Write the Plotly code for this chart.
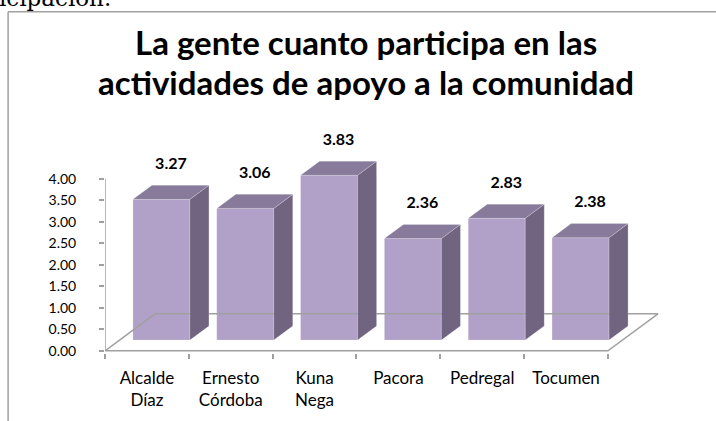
import plotly.graph_objects as go

# data
categories = ['Alcalde<br>Díaz', 'Ernesto<br>Córdoba', 'Kuna<br>Nega', 'Pacora', 'Pedregal', 'Tocumen']
values = [3.27, 3.06, 3.83, 2.36, 2.83, 2.38]
y_ticks = [0, 0.5, 1, 1.5, 2, 2.5, 3, 3.5, 4]
title_lines = ['La gente cuanto participa en las', 'actividades de apoyo a la comunidad']

# fake 3d geometry (axis units)
DX, DY = 0.597, 0.86      # floor depth
F0, F1 = 0.29, 0.67       # bar front / back depth fraction
W = 0.68                  # bar width

FRONT = '#b1a0c7'
SIDE = '#706480'
TOP = '#877a9b'
GREY = '#a0a0a0'
EDGE = 'rgba(255,255,255,0.35)'

x_idx = list(range(len(categories)))
n = len(categories)

fig = go.Figure()

# floor
fx = [-0.5, n - 0.5, n - 0.5 + DX, -0.5 + DX, -0.5]
fy = [0, 0, DY, DY, 0]
fig.add_trace(go.Scatter(x=fx, y=fy, mode='lines', line=dict(color=GREY, width=1.5),
                         hoverinfo='skip', showlegend=False, cliponaxis=False))

# front faces
fig.add_trace(go.Bar(
    x=[i + F0 * DX for i in x_idx],
    y=values,
    base=F0 * DY,
    width=W,
    marker=dict(color=FRONT, line=dict(color=EDGE, width=0.6)),
    showlegend=False,
    hoverinfo='skip'
))

ddx = (F1 - F0) * DX
b0, b1 = F0 * DY, F1 * DY
for i, v in zip(x_idx, values):
    xl = i - W / 2 + F0 * DX
    xr = i + W / 2 + F0 * DX
    # side face
    fig.add_trace(go.Scatter(
        x=[xr, xr, xr + ddx, xr + ddx, xr],
        y=[b0, v + b0, v + b1, b1, b0],
        fill='toself', fillcolor=SIDE, mode='lines',
        line=dict(color=EDGE, width=0.6),
        hoverinfo='skip', showlegend=False))
    # top face
    fig.add_trace(go.Scatter(
        x=[xl, xr, xr + ddx, xl + ddx, xl],
        y=[v + b0, v + b0, v + b1, v + b1, v + b0],
        fill='toself', fillcolor=TOP, mode='lines',
        line=dict(color=EDGE, width=0.6),
        hoverinfo='skip', showlegend=False))

# data labels
fig.add_trace(go.Scatter(
    x=[i + (F0 + F1) / 2 * DX for i in x_idx],
    y=[v + b1 + 0.48 for v in values],
    mode='text',
    text=[f'<b>{v:.2f}</b>' for v in values],
    textposition='middle center',
    textfont=dict(family='Lato', size=16, color='black'),
    hoverinfo='skip', showlegend=False, cliponaxis=False
))

# title as two separate lines (Excel-style wide line spacing)
annotations = []
for line, yp in zip(title_lines, [1.376, 1.199]):
    annotations.append(dict(
        text=f'<b>{line}</b>', xref='paper', yref='paper', x=0.458, y=yp,
        xanchor='center', yanchor='middle', showarrow=False,
        font=dict(family='Lato', size=33, color='black')))
# clipped page text above the chart
annotations.append(dict(
    text='icipación.', xref='paper', yref='paper', x=-0.19, y=1.571,
    xanchor='left', yanchor='middle', showarrow=False,
    font=dict(family='DejaVu Serif', size=23, color='black')))

fig.update_layout(
    width=716, height=421,
    margin=dict(l=105, r=41, t=127, b=68),
    paper_bgcolor='white', plot_bgcolor='white',
    xaxis=dict(
        range=[-0.5, 6.3],
        tickvals=x_idx, ticktext=categories,
        ticks='', showline=False, showgrid=False, zeroline=False,
        tickfont=dict(family='Lato', size=17, color='black'),
        ticklabelstandoff=13,
        minor=dict(tickvals=[i - 0.5 for i in range(n + 1)], ticks='outside',
                   ticklen=5, tickcolor=GREY, tickwidth=1.5, showgrid=False)
    ),
    yaxis=dict(
        range=[-0.05, 5.2],
        tickvals=y_ticks, tickformat='.2f',
        ticks='outside', ticklen=5, tickcolor=GREY, tickwidth=1.5,
        showline=False, showgrid=False, zeroline=False,
        ticklabelstandoff=20,
        tickfont=dict(family='Lato', size=14, color='black')
    ),
    shapes=[
        # vertical axis line
        dict(type='line', xref='x', yref='y', x0=-0.5, x1=-0.5, y0=0, y1=4,
             line=dict(color=GREY, width=1.5)),
        # chart frame (top and left edges)
        dict(type='line', xref='paper', yref='paper', x0=-0.17, x1=1.1, y0=1.51, y1=1.51,
             line=dict(color=GREY, width=1.5)),
        dict(type='line', xref='paper', yref='paper', x0=-0.17, x1=-0.17, y0=1.51, y1=-0.35,
             line=dict(color=GREY, width=1.5)),
    ],
    annotations=annotations
)

# page body has a default margin; drop it so the figure sits at the window corner
fig.write_html('out.html', config={'displayModeBar': False},
               post_script="document.body.style.margin='0';")
